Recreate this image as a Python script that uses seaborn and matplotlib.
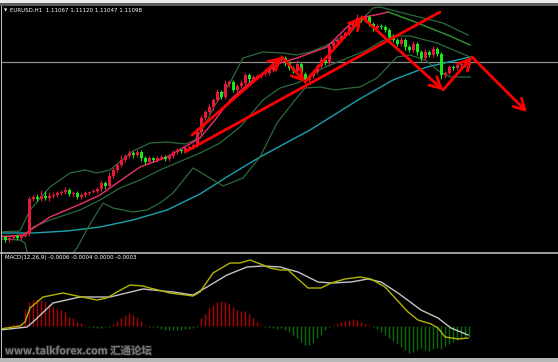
import numpy as np
import matplotlib
matplotlib.use("Agg")
import matplotlib.pyplot as plt
import matplotlib.patheffects as pe
import seaborn as sns

# ---------------- DATA ----------------
# EURUSD H1 closes (one per bar)
close = [
    1.0932, 1.0934, 1.0936, 1.0934, 1.0936, 1.0938, 1.0973, 1.0975, 1.0973, 1.0976,
    1.0974, 1.0976, 1.0977, 1.0979, 1.0980, 1.0982, 1.0978, 1.0979, 1.0975, 1.0977,
    1.0979, 1.0980, 1.0981, 1.0983, 1.0989, 1.0986, 1.0996, 1.1002, 1.1007, 1.1012,
    1.1016, 1.1019, 1.1017, 1.1020, 1.1014, 1.1010, 1.1014, 1.1012, 1.1014, 1.1015,
    1.1013, 1.1016, 1.1020, 1.1022, 1.1021, 1.1024, 1.1025, 1.1027, 1.1040, 1.1054,
    1.1060, 1.1065, 1.1072, 1.1080, 1.1075, 1.1088, 1.1090, 1.1082, 1.1086, 1.1089,
    1.1097, 1.1093, 1.1095, 1.1096, 1.1098, 1.1099, 1.1102, 1.1106, 1.1112, 1.1114,
    1.1109, 1.1104, 1.1101, 1.1108, 1.1098, 1.1092, 1.1096, 1.1100, 1.1106, 1.1112,
    1.1109, 1.1126, 1.1130, 1.1132, 1.1136, 1.1139, 1.1145, 1.1148, 1.1154, 1.1152,
    1.1155, 1.1148, 1.1144, 1.1146, 1.1145, 1.1142, 1.1135, 1.1132, 1.1128, 1.1132,
    1.1125, 1.1122, 1.1128, 1.1120, 1.1114, 1.1120, 1.1117, 1.1123, 1.1118, 1.1097,
    1.1099, 1.1105, 1.1104, 1.1107, 1.1108, 1.1107, 1.1110,
]
first_open = 1.0935
# wick lengths in pips
upper_wick = [
    1, 2, 1, 2, 1, 2, 3, 2, 3, 6,
    5, 4, 3, 2, 2, 3, 2, 2, 2, 2,
    2, 1, 2, 2, 3, 2, 4, 3, 2, 5,
    2, 3, 2, 2, 2, 2, 2, 1, 2, 2,
    2, 2, 2, 2, 1, 2, 2, 2, 2, 3,
    2, 3, 2, 3, 2, 4, 2, 2, 2, 3,
    2, 2, 2, 2, 1, 2, 2, 3, 2, 3,
    2, 2, 2, 4, 2, 2, 2, 2, 2, 3,
    2, 2, 3, 2, 2, 2, 3, 2, 4, 2,
    3, 2, 2, 2, 2, 2, 2, 3, 2, 3,
    2, 2, 3, 2, 2, 3, 2, 3, 2, 2,
    2, 2, 2, 2, 2, 2, 1,
]
lower_wick = [
    2, 2, 1, 2, 2, 1, 2, 2, 2, 2,
    2, 3, 2, 2, 2, 2, 2, 3, 2, 2,
    2, 2, 1, 2, 2, 3, 2, 2, 2, 2,
    2, 2, 3, 2, 3, 2, 2, 2, 2, 2,
    2, 2, 2, 2, 2, 1, 2, 2, 2, 3,
    2, 2, 3, 2, 2, 2, 3, 2, 2, 2,
    2, 3, 2, 2, 2, 2, 2, 2, 2, 2,
    3, 2, 2, 2, 2, 3, 2, 2, 2, 2,
    2, 3, 2, 2, 2, 2, 2, 2, 2, 2,
    2, 2, 3, 2, 2, 2, 3, 2, 2, 2,
    3, 2, 2, 3, 3, 2, 2, 2, 2, 4,
    3, 2, 2, 2, 2, 2, 3,
]
last_price = 1.11098

# indicator lines: (bar index, price)
ma_fast_x = [-1.25, 4.5, 11.25, 19.5, 23.75, 28, 33.75, 40.5, 48.75, 52.5, 56.25, 62, 68.75, 73, 80.5, 85.5, 88.75, 93.75, 95.75]
ma_fast_y = [1.0935, 1.0937, 1.0955, 1.0969, 1.0977, 1.0989, 1.1005, 1.1015, 1.1034, 1.1052, 1.1072, 1.1092, 1.1109, 1.1114, 1.1125, 1.1145, 1.1154, 1.1158, 1.1160]
ma_fast_down_x = [95.75, 101.25, 106.25, 111.25, 116.25]
ma_fast_down_y = [1.1160, 1.1152, 1.1144, 1.1136, 1.1127]

bb_up_x = [-1.25, 3.75, 6.25, 11.25, 16.25, 20, 23, 26.25, 29.25, 32, 36.25, 40.5, 45, 47.5, 50, 52.5, 56.25, 59.5, 64.5, 69.5, 73, 76.25, 80, 86.25, 92, 93.75, 99.5, 109.5, 115.75]
bb_up_y = [1.0940, 1.0941, 1.0962, 1.0985, 1.0999, 1.1002, 1.0999, 1.1002, 1.1012, 1.1021, 1.1029, 1.1030, 1.1028, 1.1032, 1.1047, 1.1067, 1.1089, 1.1114, 1.1120, 1.1119, 1.1117, 1.1120, 1.1126, 1.1139, 1.1164, 1.1165, 1.1159, 1.1149, 1.1137]
bb_mid_x = [-1.25, 5, 7, 11.25, 18.75, 23.75, 28.75, 33.75, 38.75, 48.75, 53.75, 58.75, 64.5, 68.75, 73.75, 79.5, 86.25, 90.5, 93.75, 97, 101.25, 108, 116.25]
bb_mid_y = [1.0936, 1.0936, 1.0945, 1.0952, 1.0962, 1.0972, 1.0984, 1.0992, 1.1002, 1.1019, 1.1029, 1.1045, 1.1072, 1.1084, 1.1090, 1.1104, 1.1115, 1.1122, 1.1130, 1.1136, 1.1136, 1.1129, 1.1115]
bb_low_x = [-1.25, 3.75, 5, 5.75, 10, 15, 18, 21.25, 24.5, 27, 32, 35.5, 38.75, 42, 47, 48.75, 54.5, 59.5, 63.75, 68, 72.5, 75, 78.75, 82.5, 86.25, 88.75, 93, 98, 101.25, 105, 108.75, 111.25, 116.25]
bb_low_y = [1.0933, 1.0932, 1.0929, 1.0916, 1.0902, 1.0910, 1.0924, 1.0948, 1.0969, 1.0964, 1.0960, 1.0962, 1.0969, 1.0979, 1.1004, 1.1000, 1.0986, 1.0994, 1.1015, 1.1049, 1.1072, 1.1084, 1.1085, 1.1082, 1.1084, 1.1085, 1.1094, 1.1115, 1.1117, 1.1112, 1.1100, 1.1095, 1.1095]
ma_slow_x = [-1.25, 7, 15.5, 23.75, 32, 40.5, 48.75, 56.25, 63.75, 76.25, 88.25, 97, 105.5, 116.25]
ma_slow_y = [1.0939, 1.0939, 1.0941, 1.0945, 1.0952, 1.0962, 1.0978, 1.0997, 1.1015, 1.1042, 1.1072, 1.1092, 1.1105, 1.1115]

# analyst drawings (bar index, price)
trend_x = [45, 108.75]
trend_y = [1.1020, 1.1160]
zigzag_x = [46.75, 69.25, 75, 89.25, 109.5, 116.75, 130.5]
zigzag_y = [1.1037, 1.1115, 1.1090, 1.1155, 1.1082, 1.1115, 1.1060]

# MACD panel, values in points (0.00001)
osma = [
    5, 5, 10, 10, 15, 85, 120, 130, 135, 130,
    120, 110, 95, 85, 80, 70, 45, 40, 20, 15,
    5, -5, -10, -10, -10, -5, -5, 10, 25, 40,
    55, 65, 55, 45, 25, 5, -5, -5, -10, -15,
    -20, -20, -20, -20, -20, -15, -15, -10, -5, 40,
    60, 90, 105, 120, 125, 120, 110, 95, 80, 75,
    75, 60, 40, 20, 5, -5, -10, -10, -15, -10,
    -20, -30, -45, -60, -80, -95, -95, -85, -60, -45,
    -20, -5, 5, 10, 20, 25, 30, 35, 30, 20,
    10, 5, -5, -15, -30, -45, -60, -75, -90, -105,
    -120, -135, -130, -120, -110, -120, -125, -115, -110, -115,
    -100, -90, -80, -70, -65, -60, -55,
]
macd_x = [-1.25, 3.75, 5, 6.25, 9.5, 14.5, 18, 23, 25.5, 28, 31.25, 34.5, 36.25, 41.25, 47, 48.75, 52, 56.25, 58.75, 61.25, 64.5, 66.25, 68.75, 70.75, 75.75, 79, 81.5, 85, 88.75, 91.5, 95, 100.75, 103.25, 106.5, 108.25, 110, 113.25, 115.75]
macd_y = [-15, 0, 20, 90, 145, 165, 150, 130, 140, 170, 205, 200, 190, 165, 150, 170, 265, 315, 315, 330, 305, 290, 280, 280, 190, 190, 215, 235, 245, 235, 195, 70, 30, 10, -10, -55, -65, -60]
signal_x = [-1.25, 5.5, 7, 12, 18.75, 26.25, 34.5, 42, 47, 50.5, 55.5, 60.5, 64.5, 68.75, 73.25, 78.25, 81.5, 86.5, 90.75, 94, 98.25, 104, 108.25, 111.5, 115.75]
signal_y = [-20, -5, 20, 115, 145, 145, 185, 170, 155, 195, 255, 295, 300, 295, 270, 220, 215, 220, 235, 220, 165, 80, 40, -10, -45]

header = "EURUSD,H1  1.11067 1.11120 1.11047 1.11098"
macd_label = "MACD(12,26,9) -0.0006 -0.0004 0.0000 -0.0003"
watermark = "www.talkforex.com 汇通论坛"

# ---------------- FIGURE ----------------
W, H = 558, 362
fig = plt.figure(figsize=(W / 100, H / 100), dpi=100, facecolor="#e9e9e9")


def frac_box(x0, y0, x1, y1):
    return [x0 / W, 1 - y1 / H, (x1 - x0) / W, (y1 - y0) / H]


ax = fig.add_axes(frac_box(2, 6, 558, 252))
ax2 = fig.add_axes(frac_box(2, 254, 558, 358))
for a in (ax, ax2):
    a.set_facecolor("black")
    a.set_xticks([])
    a.set_yticks([])
    for s in a.spines.values():
        s.set_visible(False)
    a.set_xlim(-0.75, 138.25)
ax.set_ylim(1.0920, 1.1166)
ax2.set_ylim(-160, 360)


def fig_rect(x0, y0, x1, y1, color):
    fig.patches.append(plt.Rectangle((x0 / W, 1 - y1 / H), (x1 - x0) / W, (y1 - y0) / H,
                                     transform=fig.transFigure, color=color, lw=0, zorder=-1))


fig_rect(0, 3, W, 6, "#5a5a5a")
fig_rect(0, 6, 2, 358, "#000000")
fig_rect(0, 252, W, 254, "#9a9a9a")
fig_rect(0, 358, W, H, "#b8b8b8")
fig_rect(1, 6, 2, 358, "#bdbdbd")

# price line
ax.axhline(last_price, color="#8c8c8c", lw=0.9, zorder=1)

# indicators
line_kw = dict(sort=False, estimator=None, legend=False)
sns.lineplot(x=ma_slow_x, y=ma_slow_y, ax=ax, color="#1aa3ad", lw=1.0, **line_kw)
sns.lineplot(x=bb_up_x, y=bb_up_y, ax=ax, color="#2c6a3c", lw=0.9, **line_kw)
sns.lineplot(x=bb_mid_x, y=bb_mid_y, ax=ax, color="#2c6a3c", lw=0.9, **line_kw)
sns.lineplot(x=bb_low_x, y=bb_low_y, ax=ax, color="#2c6a3c", lw=0.9, **line_kw)
sns.lineplot(x=ma_fast_x, y=ma_fast_y, ax=ax, color="#f0306a", lw=1.0, **line_kw)
sns.lineplot(x=ma_fast_down_x, y=ma_fast_down_y, ax=ax, color="#2e9a2e", lw=1.0, **line_kw)

# candles
c = np.array(close)
o = np.r_[first_open, c[:-1]]
hi = np.maximum(o, c) + np.array(upper_wick) * 1e-4
lo = np.minimum(o, c) - np.array(lower_wick) * 1e-4
idx = np.arange(len(c))
cols = np.where(c >= o, "#e8173c", "#18e818")
ax.vlines(idx, lo, hi, colors=cols, lw=0.8, zorder=3)
body = np.maximum(np.abs(c - o), 0.00012)
ax.bar(idx, body, bottom=np.minimum(o, c), width=0.75, color=cols, lw=0, zorder=4)

# analyst drawings
ax.plot(trend_x, trend_y, color="#ff0000", lw=2.0, solid_capstyle="round", zorder=6)
for i in range(len(zigzag_x) - 1):
    ax.annotate("", xy=(zigzag_x[i + 1], zigzag_y[i + 1]), xytext=(zigzag_x[i], zigzag_y[i]),
                arrowprops=dict(arrowstyle="->,head_length=0.55,head_width=0.3", color="#ff0000",
                                lw=2.0, shrinkA=0, shrinkB=0, mutation_scale=14), zorder=6)

# MACD panel
hcols = np.where(np.array(osma) >= 0, "#b30000", "#0b6b0b")
ax2.vlines(idx, 0, osma, colors=hcols, lw=1.0)
sns.lineplot(x=signal_x, y=signal_y, ax=ax2, color="#c4c4c4", lw=1.0, **line_kw)
sns.lineplot(x=macd_x, y=macd_y, ax=ax2, color="#b4b400", lw=1.0, **line_kw)

# texts
fig.text(4 / W, 1 - 10 / H, "▼", color="white", fontsize=3, va="center")
fig.text(10 / W, 1 - 10 / H, header, color="white", fontsize=4, va="center")
fig.text(5 / W, 1 - 258 / H, macd_label, color="white", fontsize=4, va="center")
fig.text(5 / W, 1 - 351 / H, watermark, color="#7c7c7c", fontsize=7.5, fontweight="bold",
         va="center", family=["Noto Sans CJK SC", "DejaVu Sans"],
         path_effects=[pe.withStroke(linewidth=1.2, foreground="#202020")])

fig.savefig("out.png", dpi=100, facecolor=fig.get_facecolor())
